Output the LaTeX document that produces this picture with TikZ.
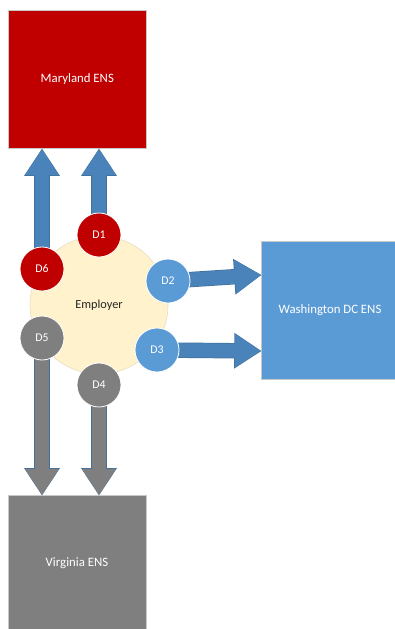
\documentclass[tikz,border=0pt]{standalone}
\usepackage{fontspec}
\setmainfont{Carlito}
\usetikzlibrary{arrows.meta,calc}
\definecolor{mdred}{HTML}{C00000}
\definecolor{dcblue}{HTML}{5B9BD5}
\definecolor{arrblue}{HTML}{4A82BA}
\definecolor{arrline}{HTML}{41719C}
\definecolor{vagrey}{HTML}{7F7F7F}
\definecolor{empfill}{HTML}{FFF2CC}
\definecolor{empline}{HTML}{E6DDBF}
\definecolor{boxline}{HTML}{C8C8C8}
\tikzset{
  box/.style={draw=boxline, line width=0.6pt, inner sep=0pt, anchor=north west},
  boxlabel/.style={text=white, font=\fontsize{12.8}{15}\selectfont},
  dot/.style={circle, draw=white, line width=0.8pt, minimum size=44pt, inner sep=0pt, text=white, font=\fontsize{11.8}{14}\selectfont},
  fatarrow/.style={line width=14pt, -{Triangle[length=26pt,width=32pt]}},
  fatout/.style={line width=15.4pt, -{Triangle[length=27.4pt,width=33.8pt]}, shorten >=-0.6pt, arrline},
}
\begin{document}
\begin{tikzpicture}[x=1pt,y=-1pt]
\useasboundingbox (0,0) rectangle (395,629);
% boxes
\node[box, fill=mdred, minimum width=138pt, minimum height=138pt] (MD) at (8,10) {};
\node[boxlabel] (MDt) at (MD.center) {Maryland ENS};
\node[box, fill=dcblue, minimum width=136pt, minimum height=138pt] (DC) at (261,241) {};
\node[boxlabel] (DCt) at (330,310) {Washington DC ENS};
\node[box, fill=vagrey, minimum width=138pt, minimum height=136pt] (VA) at (8,495) {};
\node[boxlabel] (VAt) at (77,563) {Virginia ENS};
% circle centres
\coordinate (c1) at (99,235);
\coordinate (c2) at (168,281);
\coordinate (c3) at (157,350);
\coordinate (c4) at (99,385);
\coordinate (c5) at (42,338);
\coordinate (c6) at (42,269);
% arrow tips
\coordinate (t6) at (42,149);
\coordinate (t1) at (99,149);
\coordinate (t2) at (261,275);
\coordinate (t3) at (261,351);
\coordinate (t5) at (42,495);
\coordinate (t4) at (99,495);
\foreach \a/\b in {c6/t6,c1/t1,c2/t2,c3/t3}{
  \draw[fatout] (\a) -- (\b);
  \draw[fatarrow, arrblue] (\a) -- (\b);
}
\foreach \a/\b in {c5/t5,c4/t4}{
  \draw[fatout] (\a) -- (\b);
  \draw[fatarrow, vagrey] (\a) -- (\b);
}
% employer
\node[circle, fill=empfill, draw=empline, line width=0.6pt, minimum size=138pt, inner sep=0pt,
      text=black!85, font=\fontsize{12.3}{14}\selectfont] (E) at (99,305) {Employer};
% D circles
\node[dot, fill=mdred] (D1) at (c1) {D1};
\node[dot, fill=dcblue] (D2) at (c2) {D2};
\node[dot, fill=dcblue] (D3) at (c3) {D3};
\node[dot, fill=vagrey] (D4) at (c4) {D4};
\node[dot, fill=vagrey] (D5) at (c5) {D5};
\node[dot, fill=mdred] (D6) at (c6) {D6};
\end{tikzpicture}
\end{document}
